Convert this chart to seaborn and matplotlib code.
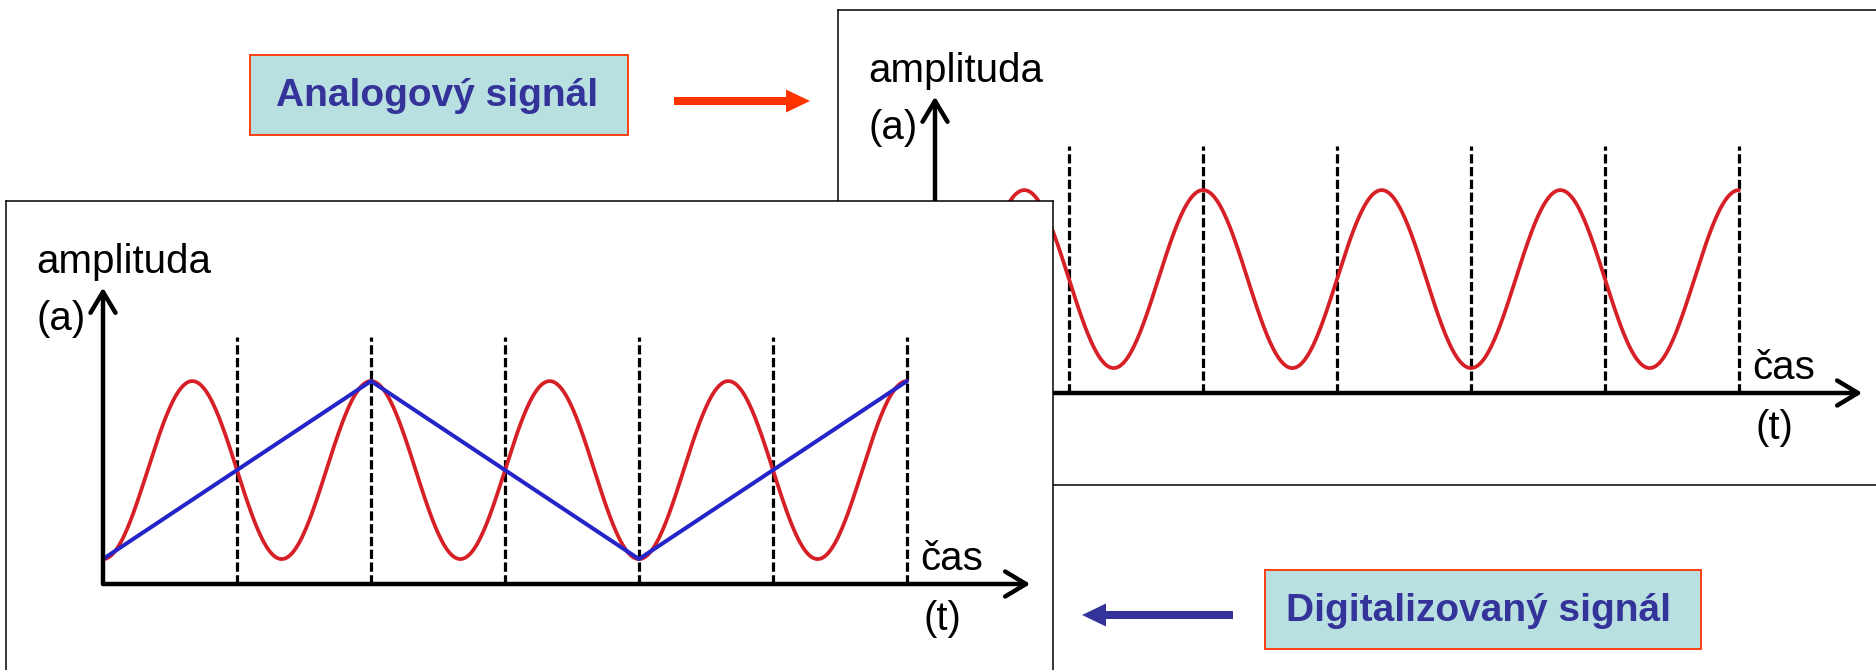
import numpy as np
import matplotlib
matplotlib.use("Agg")
import matplotlib.pyplot as plt
import seaborn as sns
from matplotlib import font_manager
from matplotlib.patches import Rectangle, FancyArrow

# vzorky digitalizovaneho signalu (cas v nasobcich vzorkovaci periody, amplituda)
vzorky_t = [0, 1, 2, 3, 4, 5, 6]
vzorky_a = [-1, 0, 1, 0, -1, 0, 1]

# analogovy signal: 4.5 periody na 6 vzorku, zacina v minimu
analog_perioda = 4 / 3
analog_konec = 6
analog_t = np.linspace(0, analog_konec, 800)
analog_a = -np.cos(2 * np.pi * analog_t / analog_perioda)

popis_amplituda = ["amplituda", "(a)"]
popis_cas = ["čas", "(t)"]
stitek_analog = "Analogový signál"
stitek_digital = "Digitalizovaný signál"

W, H = 1876, 670
CERVENA = "#d71f26"
MODRA = "#2424c8"
TMAVE_MODRA = "#333399"
ORANZOVA = "#ff3300"
POZADI_STITKU = "#b9e0e1"

sns.set_style("white")
nazvy_pisem = {f.name for f in font_manager.fontManager.ttflist}
uzke = "Liberation Sans Narrow" in nazvy_pisem
if uzke:
    plt.rcParams["font.family"] = ["Liberation Sans Narrow", "Liberation Sans", "DejaVu Sans"]
    vel_popis, vel_stitek = 36, 34
else:
    plt.rcParams["font.family"] = ["Liberation Sans", "DejaVu Sans"]
    vel_popis, vel_stitek = 29, 28
plt.rcParams["text.color"] = "black"

# geometrie panelu v pixelech (stejna pro oba panely)
PW, PH = 1047, 475        # velikost ramecku
OX, OY = 97, 383          # pocatek os od leveho horniho rohu
SX, SY = 134, 89          # pixelu na jednotku casu / amplitudy
OSA = -1.28               # uroven vodorovne osy v jednotkach amplitudy


def pridej_panel(fig, x0, y0):
    ax = fig.add_axes([x0 / W, 1 - (y0 + PH) / H, PW / W, PH / H])
    amp0 = OY - (-OSA) * SY  # pixel nuly amplitudy od horniho okraje
    ax.set_xlim(-OX / SX, (PW - OX) / SX)
    ax.set_ylim(-(PH - amp0) / SY, amp0 / SY)
    ax.set_xticks([])
    ax.set_yticks([])
    ax.set_facecolor("white")
    for s in ax.spines.values():
        s.set_visible(True)
        s.set_color("black")
        s.set_linewidth(1.1)
    return ax


def kresli_panel(ax, digital):
    ax.vlines(vzorky_t[1:], OSA, 1.5, colors="black", linewidth=2.3,
              linestyles=(0, (2.9, 1.1)), zorder=2)
    sns.lineplot(x=analog_t, y=analog_a, ax=ax, color=CERVENA, linewidth=2.7, zorder=3)
    if digital:
        sns.lineplot(x=vzorky_t, y=vzorky_a, ax=ax, color=MODRA, linewidth=2.9, zorder=4)
    sipka = dict(arrowstyle="->,head_length=0.5,head_width=0.3", lw=3.2, color="black",
                 shrinkA=0, shrinkB=0, mutation_scale=30)
    ax.annotate("", xy=(6.92, OSA), xytext=(0, OSA), arrowprops=sipka, zorder=5)
    ax.annotate("", xy=(0, 2.05), xytext=(0, OSA), arrowprops=sipka, zorder=5)
    ax.text(-0.50, 2.21, popis_amplituda[0], fontsize=vel_popis, va="baseline", ha="left")
    ax.text(-0.50, 1.57, popis_amplituda[1], fontsize=vel_popis, va="baseline", ha="left")
    ax.text(6.10, -1.12, popis_cas[0], fontsize=vel_popis, va="baseline", ha="left")
    ax.text(6.12, -1.80, popis_cas[1], fontsize=vel_popis, va="baseline", ha="left")


fig = plt.figure(figsize=(W / 100, H / 100), dpi=100)

# zadni panel - analogovy signal
ax_analog = pridej_panel(fig, 838, 10)
kresli_panel(ax_analog, digital=False)

# predni panel - digitalizovany signal
ax_digital = pridej_panel(fig, 6, 201)
kresli_panel(ax_digital, digital=True)

# popisky a sipky v pixelovych souradnicich
ov = fig.add_axes([0, 0, 1, 1])
ov.set_xlim(0, W)
ov.set_ylim(H, 0)
ov.axis("off")
ov.patch.set_alpha(0)

ov.add_patch(Rectangle((250, 55), 378, 80, facecolor=POZADI_STITKU,
                       edgecolor=ORANZOVA, linewidth=1.3))
ov.text(437, 96, stitek_analog, fontsize=vel_stitek, fontweight="bold",
        color=TMAVE_MODRA, ha="center", va="center")
ov.add_patch(FancyArrow(674, 101, 136, 0, width=8, head_width=23, head_length=24,
                        length_includes_head=True, color=ORANZOVA, linewidth=0))

ov.add_patch(Rectangle((1265, 570), 436, 79, facecolor=POZADI_STITKU,
                       edgecolor=ORANZOVA, linewidth=1.3))
ov.text(1479, 611, stitek_digital, fontsize=vel_stitek, fontweight="bold",
        color=TMAVE_MODRA, ha="center", va="center")
ov.add_patch(FancyArrow(1233, 615, -151, 0, width=8, head_width=23, head_length=24,
                        length_includes_head=True, color=TMAVE_MODRA, linewidth=0))

fig.savefig("out.png", dpi=100)
